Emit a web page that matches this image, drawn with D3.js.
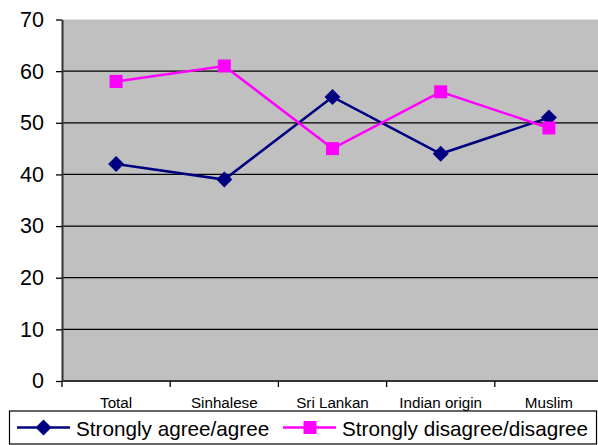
<!DOCTYPE html>
<html>
<head>
<meta charset="utf-8">
<script src="https://cdn.jsdelivr.net/npm/d3@7"></script>
<style>
  html, body { margin: 0; padding: 0; background: #fff; }
  svg { display: block; font-family: Arial, "Liberation Sans", sans-serif; }
</style>
</head>
<body>
<svg id="chart" width="598" height="445"></svg>
<script>
// Survey responses by group (percent)
const categories = ["Total", "Sinhalese", "Sri Lankan", "Indian origin", "Muslim"];
const agreeValues = [42, 39, 55, 44, 51];
const disagreeValues = [58, 61, 45, 56, 49];
const yTicks = [0, 10, 20, 30, 40, 50, 60, 70];
const seriesNames = ["Strongly agree/agree", "Strongly disagree/disagree"];

const svg = d3.select("#chart");
const plotLeft = 62, plotRight = 603, plotTop = 19.5, plotBottom = 381;

const x = d3.scaleBand().domain(categories).range([plotLeft, plotRight]);
const y = d3.scaleLinear().domain([0, 70]).range([plotBottom, plotTop]);

// plot background
svg.append("rect")
  .attr("x", plotLeft).attr("y", plotTop)
  .attr("width", plotRight - plotLeft).attr("height", plotBottom - plotTop)
  .attr("fill", "#c0c0c0");

// horizontal gridlines
svg.append("g").selectAll("line")
  .data(yTicks.filter(d => d > 0 && d < 70))
  .join("line")
  .attr("x1", plotLeft).attr("x2", plotRight)
  .attr("y1", d => y(d)).attr("y2", d => y(d))
  .attr("stroke", "#000").attr("stroke-width", 1.3);

// y axis
const yAxis = svg.append("g")
  .attr("transform", `translate(${plotLeft},0)`)
  .call(d3.axisLeft(y).tickValues(yTicks).tickSize(6).tickPadding(12).tickSizeOuter(0));
yAxis.select(".domain").attr("stroke", "#333").attr("stroke-width", 2);
yAxis.selectAll(".tick line").attr("stroke", "#000").attr("stroke-width", 1.3);
yAxis.selectAll(".tick text").attr("font-size", 21.5).attr("fill", "#000")
  .attr("font-family", "Arial, 'Liberation Sans', sans-serif");

// x axis: ticks at category boundaries
const xAxisG = svg.append("g");
xAxisG.append("line")
  .attr("x1", plotLeft).attr("x2", plotRight)
  .attr("y1", plotBottom).attr("y2", plotBottom)
  .attr("stroke", "#333").attr("stroke-width", 2);
const boundaries = categories.map(c => x(c)).concat([plotRight]);
xAxisG.selectAll("line.tk")
  .data(boundaries)
  .join("line").attr("class", "tk")
  .attr("x1", d => d).attr("x2", d => d)
  .attr("y1", plotBottom).attr("y2", plotBottom + 6)
  .attr("stroke", "#000").attr("stroke-width", 1.3);
xAxisG.selectAll("text")
  .data(categories)
  .join("text")
  .attr("x", d => x(d) + x.bandwidth() / 2)
  .attr("y", 407.5)
  .attr("text-anchor", "middle")
  .attr("font-size", 15.2)
  .text(d => d);

const cx = c => x(c) + x.bandwidth() / 2;
const line = d3.line().x(d => cx(d.c)).y(d => y(d.v));

const agree = categories.map((c, i) => ({ c, v: agreeValues[i] }));
const disagree = categories.map((c, i) => ({ c, v: disagreeValues[i] }));

const navy = "#000080", magenta = "#ff00ff";

function diamond(g, px, py, r, color) {
  g.append("path")
    .attr("d", `M${px},${py - r}L${px + r},${py}L${px},${py + r}L${px - r},${py}Z`)
    .attr("fill", color);
}
function square(g, px, py, s, color) {
  g.append("rect")
    .attr("x", px - s / 2).attr("y", py - s / 2)
    .attr("width", s).attr("height", s)
    .attr("fill", color);
}

// series 1
svg.append("path").datum(agree)
  .attr("d", line).attr("fill", "none")
  .attr("stroke", navy).attr("stroke-width", 2.5);
const g1 = svg.append("g");
agree.forEach(d => diamond(g1, cx(d.c), y(d.v), 8, navy));

// series 2
svg.append("path").datum(disagree)
  .attr("d", line).attr("fill", "none")
  .attr("stroke", magenta).attr("stroke-width", 2.5);
const g2 = svg.append("g");
disagree.forEach(d => square(g2, cx(d.c), y(d.v), 13, magenta));

// legend
const lg = svg.append("g");
lg.append("rect")
  .attr("x", 9.5).attr("y", 411).attr("width", 587).attr("height", 33)
  .attr("fill", "#fff").attr("stroke", "#000").attr("stroke-width", 1.2);
lg.append("line").attr("x1", 17).attr("x2", 70).attr("y1", 427.5).attr("y2", 427.5)
  .attr("stroke", navy).attr("stroke-width", 2.5);
diamond(lg, 43.5, 427.5, 8, navy);
lg.append("text").attr("x", 76).attr("y", 435.5).attr("font-size", 20.7).text(seriesNames[0]);
lg.append("line").attr("x1", 283).attr("x2", 336).attr("y1", 427.5).attr("y2", 427.5)
  .attr("stroke", magenta).attr("stroke-width", 2.5);
square(lg, 310, 427.5, 13, magenta);
lg.append("text").attr("x", 342).attr("y", 435.5).attr("font-size", 20.7).text(seriesNames[1]);
</script>
</body>
</html>
